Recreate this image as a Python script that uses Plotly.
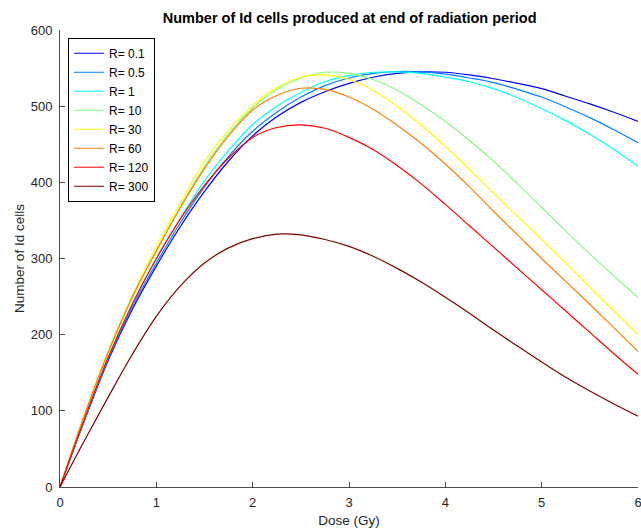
import plotly.graph_objects as go

dose = [0, 0.25, 0.5, 0.75, 1.0, 1.25, 1.5, 1.75, 2.0, 2.25, 2.5, 2.75, 3.0,
        3.25, 3.5, 3.75, 4.0, 4.25, 4.5, 4.75, 5.0, 5.25, 5.5, 5.75, 6.0]

r_0_1 = [0, 86, 166, 233, 290, 342, 388, 428, 461, 486, 505, 519, 530,
         538, 543, 545, 544.5, 541, 536, 530, 523, 513, 503, 492, 480]
r_0_5 = [0, 87, 168, 236, 294, 347, 394, 434, 467, 492, 512, 527, 537,
         543, 545.5, 545, 542, 537, 531, 522, 512, 499, 485, 469, 452]
r_1 = [0, 88, 170, 240, 299, 353, 402, 442, 476, 500, 518, 532, 540,
       544.5, 545, 543, 538, 532, 523, 511, 497, 481, 463, 443, 421]
r_10 = [0, 92, 176, 248, 310, 368, 421, 464, 498, 522, 537, 544.5, 543,
        535, 521, 502, 480, 455, 428, 398, 367, 336, 306, 277, 249]
r_30 = [0, 93, 178, 251, 315, 373, 428, 469, 501, 524, 538, 541, 535,
        521, 500, 475, 447, 417, 386, 355, 325, 294, 262, 231, 200]
r_60 = [0, 93, 177, 249, 310, 367, 418, 461, 495, 514, 523.5, 522, 512,
        496, 475, 451, 424, 394, 362, 331, 300, 270, 240, 209, 178]
r_120 = [0, 88, 170, 240, 300, 352, 396, 432, 459, 472, 475.5, 471, 459,
         443, 422, 398, 371, 343, 315, 287, 259, 231, 203, 175, 148]
r_300 = [0, 60, 118, 174, 224, 264, 294, 314, 326, 332, 331, 325, 316,
         303, 287, 269, 249, 228, 206, 185, 164, 144, 126, 109, 93]

labels = ["R= 0.1", "R= 0.5", "R= 1", "R= 10", "R= 30", "R= 60", "R= 120", "R= 300"]
series = [r_0_1, r_0_5, r_1, r_10, r_30, r_60, r_120, r_300]
colors = ["rgb(0,0,255)", "rgb(0,128,255)", "rgb(0,255,255)", "rgb(128,255,128)",
          "rgb(255,255,0)", "rgb(255,128,0)", "rgb(255,0,0)", "rgb(128,0,0)"]

font = "Liberation Sans, Arial, Helvetica, sans-serif"
axcol = "#4d4d4d"

fig = go.Figure()
for lab, ys, c in zip(labels, series, colors):
    fig.add_trace(go.Scatter(x=dose, y=ys, mode="lines", name=lab,
                             line=dict(color=c, width=1.2, shape="spline", smoothing=1.0)))

fig.update_layout(
    width=641, height=532,
    margin=dict(l=60, r=3, t=30, b=45),
    paper_bgcolor="white", plot_bgcolor="white",
    font=dict(family=font, size=13, color="#262626"),
    title=dict(text="<b>Number of Id cells produced at end of radiation period</b>",
               x=0.5455, xanchor="center", y=0.966, yanchor="middle",
               font=dict(size=14.5, color="black")),
    legend=dict(x=0.014, y=0.983, xanchor="left", yanchor="top",
                bordercolor="black", borderwidth=1, bgcolor="white",
                font=dict(size=12, color="black")),
    showlegend=True,
)
fig.update_xaxes(range=[0, 6], tickvals=[0, 1, 2, 3, 4, 5, 6], ticks="inside", ticklen=5,
                 tickcolor=axcol, showline=True, linecolor=axcol, linewidth=1,
                 showgrid=False, zeroline=False, ticklabeloverflow="allow",
                 automargin=False, ticklabelstandoff=3,
                 tickfont=dict(size=13),
                 title=dict(text="Dose (Gy)", standoff=6, font=dict(size=13.5)))
fig.update_yaxes(range=[0, 600], tickvals=[0, 100, 200, 300, 400, 500, 600], ticks="inside", ticklen=5,
                 tickcolor=axcol, showline=True, linecolor=axcol, linewidth=1,
                 showgrid=False, zeroline=False, ticklabelstandoff=4,
                 automargin=True,
                 tickfont=dict(size=13),
                 title=dict(text="Number of Id cells", standoff=2, font=dict(size=13.5)))

fig.write_html("out.html")
